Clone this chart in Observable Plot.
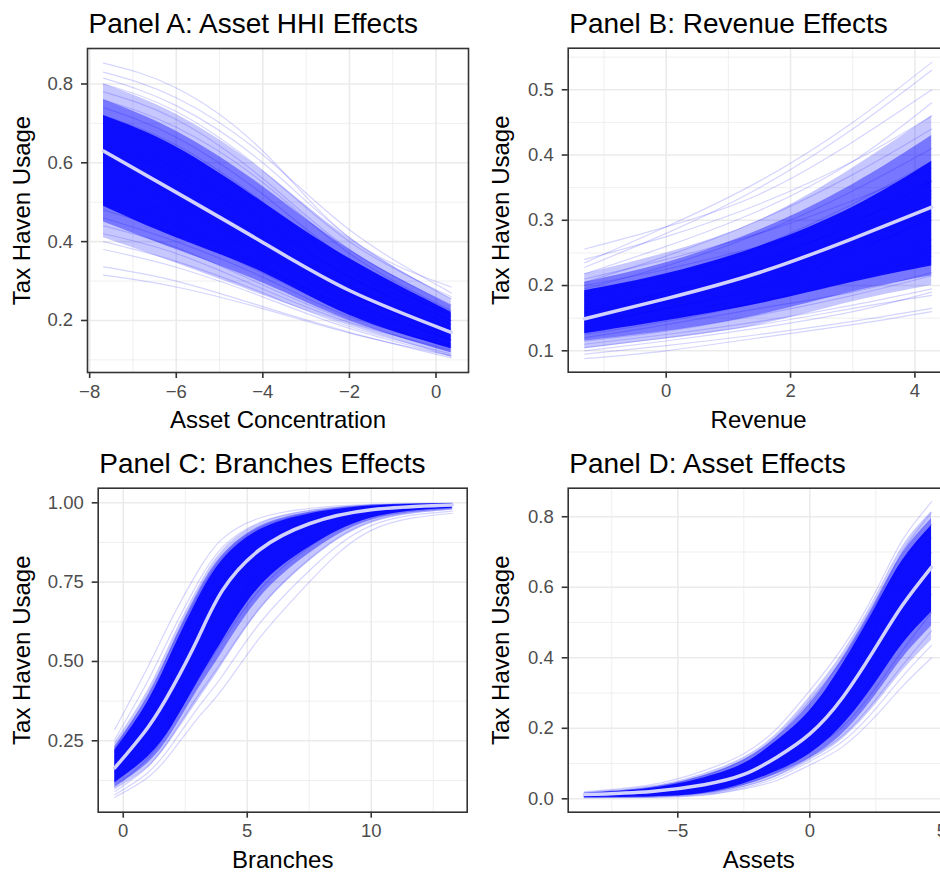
<!DOCTYPE html>
<html><head><meta charset="utf-8">
<script src="https://cdn.jsdelivr.net/npm/d3@7"></script>
<script src="https://cdn.jsdelivr.net/npm/@observablehq/plot@0.6"></script>
<style>
html,body{margin:0;padding:0;background:#fff;}
#wrap{position:relative;width:940px;height:873px;overflow:hidden;background:#fff;}
#wrap svg{position:absolute;}
</style></head><body><div id="wrap"></div>
<script>
const FONT = "'Liberation Sans', Arial, Helvetica, sans-serif";
const yLabel = "Tax Haven Usage";

// ---------- Panel A ----------
const titleA = "Panel A: Asset HHI Effects";
const xLabelA = "Asset Concentration";
const xA = [-7.68, -6, -4, -2, 0.35];
const meanA = [0.63, 0.525, 0.398, 0.276, 0.17];
const linesA = [
  [0.853,0.79,0.63,0.41,0.285],[0.83,0.765,0.62,0.43,0.27],[0.815,0.745,0.60,0.41,0.255],
  [0.80,0.73,0.58,0.40,0.26],[0.78,0.71,0.56,0.38,0.24],[0.76,0.69,0.55,0.37,0.225],
  [0.74,0.665,0.52,0.35,0.21],[0.72,0.645,0.50,0.34,0.215],[0.70,0.63,0.49,0.33,0.20],
  [0.68,0.60,0.46,0.31,0.19],[0.66,0.585,0.45,0.31,0.20],[0.64,0.57,0.43,0.29,0.18],
  [0.61,0.54,0.41,0.28,0.175],[0.59,0.52,0.40,0.27,0.16],[0.57,0.50,0.38,0.265,0.17],
  [0.55,0.49,0.37,0.25,0.15],[0.53,0.47,0.36,0.245,0.155],[0.51,0.45,0.34,0.23,0.14],
  [0.50,0.44,0.335,0.235,0.15],[0.48,0.42,0.32,0.22,0.13],[0.46,0.40,0.31,0.21,0.135],
  [0.44,0.385,0.29,0.20,0.12],[0.42,0.37,0.28,0.195,0.125],[0.40,0.35,0.27,0.185,0.115],
  [0.38,0.335,0.26,0.18,0.11],[0.336,0.30,0.235,0.17,0.105],[0.315,0.285,0.23,0.168,0.11]
];
const outerLoA = [0.41,0.345,0.264,0.187,0.107], outerHiA = [0.80,0.723,0.58,0.408,0.255];
const midLoA = [0.45,0.38,0.295,0.20,0.118], midHiA = [0.76,0.68,0.54,0.38,0.238];
const coreLoA = [0.49,0.41,0.322,0.213,0.128], coreHiA = [0.72,0.64,0.50,0.357,0.221];
const xTicksA = [-8,-6,-4,-2,0], xMinorA = [-7,-5,-3,-1];
const yTicksA = [0.2,0.4,0.6,0.8], yMinorA = [0.1,0.3,0.5,0.7];

// ---------- Panel B ----------
const titleB = "Panel B: Revenue Effects";
const xLabelB = "Revenue";
const xB = [-1.31, 0, 1.5, 3, 4.27];
const meanB = [0.149, 0.18, 0.22, 0.272, 0.32];
const linesB = [
  [0.235,0.29,0.36,0.45,0.542],[0.228,0.28,0.35,0.44,0.53],[0.256,0.29,0.34,0.42,0.50],
  [0.24,0.275,0.325,0.39,0.46],[0.218,0.26,0.315,0.39,0.48],[0.205,0.245,0.30,0.37,0.44],
  [0.21,0.24,0.28,0.33,0.38],[0.195,0.23,0.28,0.345,0.41],[0.185,0.215,0.255,0.31,0.36],
  [0.18,0.21,0.26,0.325,0.39],[0.17,0.20,0.24,0.29,0.34],[0.165,0.19,0.225,0.27,0.31],
  [0.158,0.185,0.225,0.28,0.335],[0.15,0.175,0.21,0.255,0.30],[0.145,0.165,0.195,0.235,0.27],
  [0.14,0.165,0.20,0.25,0.305],[0.135,0.155,0.185,0.22,0.26],[0.13,0.15,0.175,0.21,0.245],
  [0.125,0.145,0.175,0.215,0.255],[0.12,0.14,0.165,0.19,0.22],[0.115,0.13,0.155,0.185,0.215],
  [0.11,0.125,0.145,0.17,0.195],[0.105,0.12,0.14,0.165,0.185],[0.10,0.115,0.135,0.16,0.19],
  [0.088,0.10,0.12,0.14,0.16],[0.095,0.108,0.125,0.145,0.165],[0.20,0.225,0.26,0.30,0.345],
  [0.16,0.19,0.235,0.295,0.36]
];
const outerLoB = [0.103,0.118,0.14,0.175,0.20], outerHiB = [0.218,0.25,0.30,0.38,0.46];
const midLoB = [0.115,0.13,0.155,0.19,0.215], midHiB = [0.205,0.235,0.285,0.355,0.43];
const coreLoB = [0.126,0.146,0.172,0.205,0.23], coreHiB = [0.192,0.218,0.26,0.32,0.39];
const xTicksB = [0,2,4], xMinorB = [-1,1,3];
const yTicksB = [0.1,0.2,0.3,0.4,0.5], yMinorB = [0.15,0.25,0.35,0.45,0.55];

// ---------- Panel C ----------
const titleC = "Panel C: Branches Effects";
const xLabelC = "Branches";
const xC = [-0.34, 1, 2, 3, 4, 5.5, 7.5, 10, 13.27];
const meanC = [0.165, 0.293, 0.42, 0.571, 0.724, 0.852, 0.934, 0.978, 0.993];
const linesC = [
  [0.286,0.484,0.642,0.783,0.887,0.952,0.982,0.995,0.999],
  [0.254,0.440,0.598,0.747,0.860,0.938,0.976,0.993,0.998],
  [0.224,0.396,0.553,0.706,0.829,0.921,0.968,0.991,0.997],
  [0.197,0.354,0.506,0.662,0.792,0.899,0.958,0.988,0.996],
  [0.172,0.314,0.460,0.615,0.750,0.871,0.945,0.984,0.995],
  [0.121,0.226,0.349,0.490,0.621,0.776,0.892,0.967,0.989],
  [0.105,0.196,0.309,0.440,0.563,0.726,0.861,0.956,0.985],
  [0.090,0.169,0.271,0.391,0.503,0.669,0.823,0.942,0.980],
  [0.080,0.150,0.242,0.353,0.455,0.620,0.786,0.928,0.974],
  [0.072,0.135,0.219,0.321,0.413,0.574,0.750,0.913,0.967]
];
const outerLoC = [0.095,0.165,0.26,0.375,0.49,0.66,0.815,0.935,0.977];
const outerHiC = [0.245,0.41,0.575,0.73,0.85,0.935,0.975,0.993,0.998];
const midLoC = [0.105,0.18,0.28,0.41,0.53,0.70,0.84,0.945,0.98];
const midHiC = [0.232,0.39,0.555,0.715,0.835,0.925,0.97,0.992,0.998];
const coreLoC = [0.118,0.20,0.30,0.435,0.565,0.735,0.86,0.952,0.983];
const coreHiC = [0.22,0.375,0.535,0.695,0.82,0.915,0.965,0.99,0.997];
const xTicksC = [0,5,10], xMinorC = [2.5,7.5,12.5];
const yTicksC = [0.25,0.5,0.75,1.0], yMinorC = [0.125,0.375,0.625,0.875];

// ---------- Panel D ----------
const titleD = "Panel D: Asset Effects";
const xLabelD = "Assets";
const xD = [-8.54, -6, -4, -2.5, -1.25, 0, 1.25, 2.5, 3.5, 4.61];
const meanD = [0.012, 0.021, 0.040, 0.069, 0.118, 0.184, 0.288, 0.43, 0.548, 0.657];
const linesD = [
  [0.020,0.040,0.080,0.128,0.199,0.307,0.430,0.589,0.733,0.842],
  [0.0165,0.0319,0.0656,0.111,0.177,0.278,0.396,0.553,0.700,0.812],
  [0.0137,0.0254,0.0535,0.0957,0.157,0.251,0.363,0.517,0.664,0.778],
  [0.0113,0.0202,0.0436,0.0825,0.138,0.226,0.331,0.4805,0.626,0.740],
  [0.0094,0.016,0.0354,0.071,0.1215,0.203,0.301,0.444,0.587,0.698],
  [0.0059,0.009,0.021,0.0483,0.0874,0.1525,0.232,0.357,0.478,0.580],
  [0.0048,0.0071,0.017,0.0414,0.0764,0.1354,0.205,0.315,0.42,0.528],
  [0.0040,0.0057,0.0137,0.0354,0.0667,0.118,0.18,0.282,0.378,0.4765],
  [0.0034,0.0047,0.0116,0.0312,0.0597,0.106,0.163,0.256,0.346,0.435],
  [0.003,0.004,0.010,0.028,0.052,0.096,0.148,0.235,0.318,0.400]
];
const outerLoD = [0.003,0.0045,0.012,0.033,0.062,0.108,0.17,0.268,0.362,0.45];
const outerHiD = [0.018,0.036,0.072,0.118,0.185,0.29,0.415,0.575,0.715,0.815];
const midLoD = [0.0035,0.005,0.014,0.038,0.07,0.116,0.185,0.295,0.398,0.49];
const midHiD = [0.0165,0.033,0.066,0.11,0.175,0.27,0.40,0.56,0.695,0.795];
const coreLoD = [0.004,0.006,0.016,0.043,0.078,0.128,0.21,0.33,0.438,0.53];
const coreHiD = [0.015,0.03,0.06,0.10,0.165,0.25,0.383,0.544,0.675,0.775];
const xTicksD = [-5,0,5], xMinorD = [-7.5,-2.5,2.5];
const yTicksD = [0,0.2,0.4,0.6,0.8], yMinorD = [0.1,0.3,0.5,0.7];

const BLUE = "#0000ff";
const curve = "natural";

function panel(c) {
  const lineRows = c.lines.flatMap((ys, i) => ys.map((y, j) => ({id: i, x: c.x[j], y})));
  const meanRows = c.mean.map((y, j) => ({x: c.x[j], y}));
  const band = (lo, hi) => lo.map((v, j) => ({x: c.x[j], y1: v, y2: hi[j]}));
  const svg = Plot.plot({
    width: c.width, height: c.height,
    marginLeft: c.ml, marginRight: c.mr, marginTop: c.mt, marginBottom: c.mb,
    x: {domain: c.xDomain, label: null},
    y: {domain: c.yDomain, label: null},
    style: {fontFamily: FONT, background: "transparent", overflow: "visible", color: "black"},
    marks: [
      Plot.ruleX(c.xMinor, {stroke: "#ebebeb", strokeWidth: 0.8}),
      Plot.ruleY(c.yMinor, {stroke: "#ebebeb", strokeWidth: 0.8}),
      Plot.ruleX(c.xTicks, {stroke: "#ebebeb", strokeWidth: 1.6}),
      Plot.ruleY(c.yTicks, {stroke: "#ebebeb", strokeWidth: 1.6}),
      Plot.areaY(band(c.outer[0], c.outer[1]), {x: "x", y1: "y1", y2: "y2", fill: BLUE, fillOpacity: 0.22, curve}),
      Plot.areaY(band(c.mid[0], c.mid[1]), {x: "x", y1: "y1", y2: "y2", fill: BLUE, fillOpacity: 0.4, curve}),
      Plot.areaY(band(c.core[0], c.core[1]), {x: "x", y1: "y1", y2: "y2", fill: BLUE, fillOpacity: 0.88, curve}),
      Plot.line(lineRows, {x: "x", y: "y", z: "id", stroke: BLUE, strokeOpacity: 0.17, strokeWidth: 1.2, curve}),
      Plot.line(meanRows, {x: "x", y: "y", stroke: "#d2d2ff", strokeWidth: 3.5, curve}),
      Plot.frame({stroke: "#333333", strokeWidth: 1.6}),
      Plot.axisX(c.xTicks, {tickSize: 6, tickPadding: 6, fontSize: 18.5, stroke: "#333333", strokeWidth: 1.6, fill: "#4d4d4d", tickFormat: d3.format("d"), label: null}),
      Plot.axisY(c.yTicks, {tickSize: 6, tickPadding: 8.4, fontSize: 18.5, stroke: "#333333", strokeWidth: 1.6, fill: "#4d4d4d", tickFormat: d3.format(c.yFmt), label: null}),
      Plot.text([c.title], {text: d => d, frameAnchor: "top-left", textAnchor: "start", lineAnchor: "bottom", dx: 1, dy: -15.5, fontSize: 28, fill: "black"}),
      Plot.text([c.xLabel], {text: d => d, frameAnchor: "bottom", textAnchor: "middle", lineAnchor: "bottom", dy: 55.5, fontSize: 24, fill: "black"}),
      Plot.text([yLabel], {text: d => d, frameAnchor: "left", textAnchor: "middle", rotate: -90, lineAnchor: "bottom", dx: c.yLabelDx, fontSize: 24, fill: "black"})
    ]
  });
  svg.style.left = c.left + "px";
  svg.style.top = c.top + "px";
  document.getElementById("wrap").appendChild(svg);
}

panel({left: 0, top: 0, width: 470, height: 440, ml: 87, mr: 2, mt: 48, mb: 68,
  xDomain: [-8.05, 0.75], yDomain: [0.068, 0.89], x: xA, mean: meanA, lines: linesA,
  outer: [outerLoA, outerHiA], mid: [midLoA, midHiA], core: [coreLoA, coreHiA],
  xTicks: xTicksA, xMinor: xMinorA, yTicks: yTicksA, yMinor: yMinorA, yFmt: ".1f",
  title: titleA, xLabel: xLabelA, yLabelDx: -57.5});

panel({left: 470, top: 0, width: 480, height: 440, ml: 97.7, mr: 1.4, mt: 47.7, mb: 68.3,
  xDomain: [-1.576, 4.55], yDomain: [0.0672, 0.5637], x: xB, mean: meanB, lines: linesB,
  outer: [outerLoB, outerHiB], mid: [midLoB, midHiB], core: [coreLoB, coreHiB],
  xTicks: xTicksB, xMinor: xMinorB, yTicks: yTicksB, yMinor: yMinorB, yFmt: ".1f",
  title: titleB, xLabel: xLabelB, yLabelDx: -58.8});

panel({left: 0, top: 440, width: 470, height: 433, ml: 97.7, mr: 3.3, mt: 47.7, mb: 61.3,
  xDomain: [-1.01, 13.87], yDomain: [0.025, 1.046], x: xC, mean: meanC, lines: linesC,
  outer: [outerLoC, outerHiC], mid: [midLoC, midHiC], core: [coreLoC, coreHiC],
  xTicks: xTicksC, xMinor: xMinorC, yTicks: yTicksC, yMinor: yMinorC, yFmt: ".2f",
  title: titleC, xLabel: xLabelC, yLabelDx: -68.2});

panel({left: 470, top: 440, width: 480, height: 433, ml: 97.7, mr: 1, mt: 47.7, mb: 61.3,
  xDomain: [-9.15, 5.29], yDomain: [-0.038, 0.881], x: xD, mean: meanD, lines: linesD,
  outer: [outerLoD, outerHiD], mid: [midLoD, midHiD], core: [coreLoD, coreHiD],
  xTicks: xTicksD, xMinor: xMinorD, yTicks: yTicksD, yMinor: yMinorD, yFmt: ".1f",
  title: titleD, xLabel: xLabelD, yLabelDx: -58.8});
</script></body></html>
